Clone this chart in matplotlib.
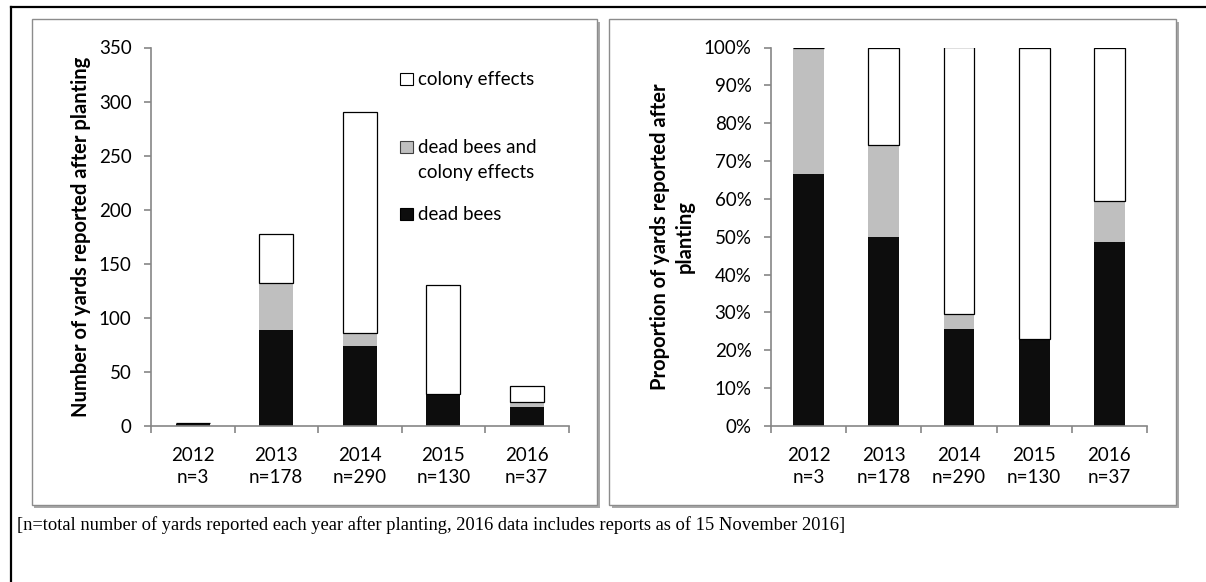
import matplotlib
matplotlib.use("Agg")
import matplotlib.pyplot as plt
from matplotlib.patches import Rectangle
from matplotlib.lines import Line2D
from matplotlib.ticker import PercentFormatter
import numpy as np

# Yards reported after planting, by year and type of incident
years = ["2012", "2013", "2014", "2015", "2016"]
totals = [3, 178, 290, 130, 37]
dead_bees = [2, 89, 74, 30, 18]
dead_bees_and_colony = [1, 43, 12, 0, 4]
colony_effects = [0, 46, 204, 100, 15]

series_names = ["dead bees", "dead bees and\ncolony effects", "colony effects"]
series_colors = ["#0d0d0d", "#bfbfbf", "#ffffff"]

caption = ("[n=total number of yards reported each year after planting, "
           "2016 data includes reports as of 15 November 2016]")

W, H = 1206, 582
plt.rcParams["font.family"] = ["Lato", "DejaVu Sans"]
AXIS_GREY = "#868686"
TICK_SIZE = 13.5
LABEL_SIZE = 14.5

fig = plt.figure(figsize=(W / 100, H / 100), dpi=100)


def fx(px):
    return px / W


def fy(py):
    return 1 - py / H


def axes_at(x0, x1, y0, y1):
    return fig.add_axes([fx(x0), fy(y1), (x1 - x0) / W, (y1 - y0) / H])


# outer frame (top and left rules)
fig.add_artist(Line2D([fx(11), 1.0], [fy(7), fy(7)], color="black", lw=1.6,
                      transform=fig.transFigure))
fig.add_artist(Line2D([fx(11), fx(11)], [fy(7), 0.0], color="black", lw=1.6,
                      transform=fig.transFigure))

# panel boxes with a soft drop shadow
for x0, x1 in [(31.5, 597), (609, 1176)]:
    y0, y1 = 19, 505
    fig.add_artist(Rectangle((fx(x0 + 2.5), fy(y1 + 2.5)), (x1 - x0) / W,
                             (y1 - y0) / H, transform=fig.transFigure,
                             facecolor="#a8a8a8", edgecolor="none", zorder=-3))
    fig.add_artist(Rectangle((fx(x0), fy(y1)), (x1 - x0) / W, (y1 - y0) / H,
                             transform=fig.transFigure, facecolor="white",
                             edgecolor="#8c8c8c", lw=1.0, zorder=-2))

x = np.arange(len(years))
xlabels = [f"{y}\nn={n}" for y, n in zip(years, totals)]


def style(ax):
    ax.set_facecolor("none")
    for s in ["top", "right"]:
        ax.spines[s].set_visible(False)
    for s in ["left", "bottom"]:
        ax.spines[s].set_color(AXIS_GREY)
        ax.spines[s].set_linewidth(1.2)
    ax.set_xlim(-0.5, len(years) - 0.5)
    ax.set_xticks(np.arange(-0.5, len(years), 1.0))
    ax.set_xticklabels([])
    ax.set_xticks(x, minor=True)
    ax.set_xticklabels(xlabels, minor=True)
    ax.tick_params(axis="x", which="major", length=5, width=1.2,
                   color=AXIS_GREY, direction="out")
    ax.tick_params(axis="x", which="minor", length=0, pad=15,
                   labelsize=TICK_SIZE)
    ax.tick_params(axis="y", length=5, width=1.2, color=AXIS_GREY, pad=9,
                   labelsize=TICK_SIZE)
    for lab in ax.get_xticklabels(minor=True):
        lab.set_linespacing(1.38)


def stacked(ax, layers, width):
    bottom = np.zeros(len(years))
    for vals, color in zip(layers, series_colors):
        vals = np.asarray(vals, dtype=float)
        edge = "black" if color == "#ffffff" else "none"
        ax.bar(x, vals, width, bottom=bottom, color=color, edgecolor=edge,
               linewidth=0.9, zorder=2)
        bottom = bottom + vals


# left: counts
axL = axes_at(151, 568.5, 47.5, 426)
style(axL)
stacked(axL, [dead_bees, dead_bees_and_colony, colony_effects], 0.41)
axL.set_ylim(0, 350)
axL.set_yticks(np.arange(0, 351, 50))
axL.set_ylabel("Number of yards reported after planting", fontsize=LABEL_SIZE,
               fontweight="bold", va="center")
axL.yaxis.set_label_coords((80.5 - 151) / 417.5, 0.5)

# right: proportions
tot = np.asarray(totals, dtype=float)
axR = axes_at(771, 1147, 47.5, 426)
style(axR)
stacked(axR, [np.asarray(dead_bees) / tot,
              np.asarray(dead_bees_and_colony) / tot,
              np.asarray(colony_effects) / tot], 0.41)
axR.set_ylim(0, 1)
axR.set_yticks(np.arange(0, 1.01, 0.1))
axR.yaxis.set_major_formatter(PercentFormatter(1.0, decimals=0))
axR.set_ylabel("Proportion of yards reported after\nplanting",
               fontsize=LABEL_SIZE, fontweight="bold", va="center",
               linespacing=1.3)
axR.yaxis.set_label_coords((672 - 771) / 376, 0.5)

# legend (top entry first): square centre y, text centre y
legend_rows = [(2, 79, 79), (1, 147, 160), (0, 214, 214)]
for idx, sq_y, txt_y in legend_rows:
    fig.add_artist(Rectangle((fx(400), fy(sq_y + 5.5)), 12.5 / W, 11 / H,
                             transform=fig.transFigure,
                             facecolor=series_colors[idx],
                             edgecolor="black" if idx != 1 else "#404040",
                             lw=0.8))
    fig.text(fx(418), fy(txt_y), series_names[idx], fontsize=TICK_SIZE,
             ha="left", va="center", linespacing=1.6)

fig.text(fx(17), fy(525), caption, family="Liberation Serif", fontsize=13.3,
         ha="left", va="center")

fig.savefig("out.png", dpi=100)
